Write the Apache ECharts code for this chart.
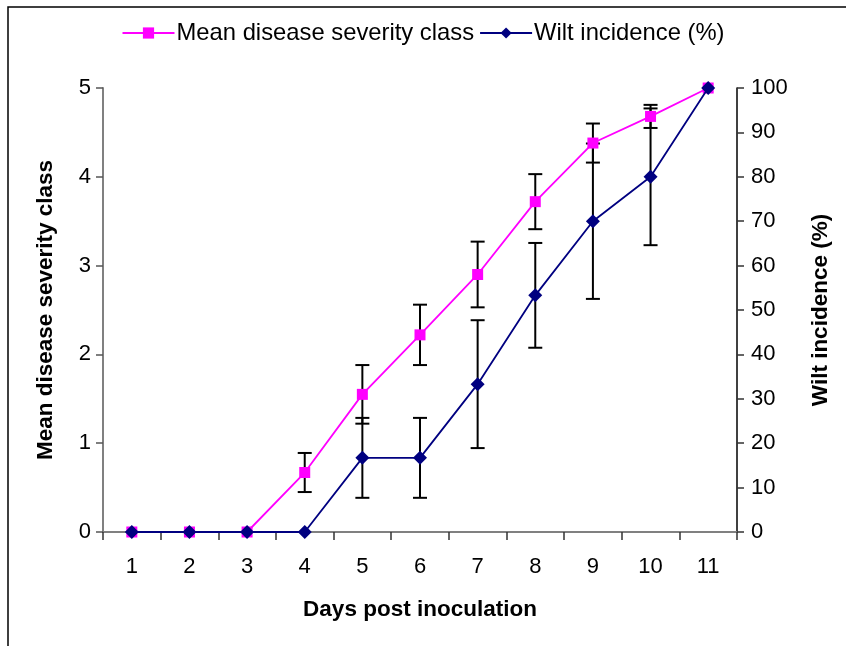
<!DOCTYPE html>
<html>
<head>
<meta charset="utf-8">
<script src="https://cdn.jsdelivr.net/npm/echarts@6/dist/echarts.min.js"></script>
<style>html,body{margin:0;padding:0;background:#fff}#c{width:846px;height:646px}</style>
</head>
<body>
<div id="c"></div>
<script>
var days = ['1','2','3','4','5','6','7','8','9','10','11'];
var severity = [0, 0, 0, 0.67, 1.55, 2.22, 2.9, 3.72, 4.38, 4.68, 5];
var severityErr = [0, 0, 0, 0.22, 0.33, 0.34, 0.37, 0.31, 0.22, 0.13, 0];
var wilt = [0, 0, 0, 0, 16.7, 16.7, 33.3, 53.3, 70, 80, 100];
var wiltErr = [0, 0, 0, 0, 9, 9, 14.4, 11.8, 17.5, 15.4, 0];
var leftTicks = [0, 1, 2, 3, 4, 5];
var rightTicks = [0, 10, 20, 30, 40, 50, 60, 70, 80, 90, 100];

var FONT = "'Liberation Sans', Arial, sans-serif";

function errData(vals, errs) {
  return vals.map(function (v, i) { return [i, v - errs[i], v + errs[i], errs[i]]; });
}
function errRender(params, api) {
  if (api.value(3) <= 0) return;
  var lo = api.coord([api.value(0), api.value(1)]);
  var hi = api.coord([api.value(0), api.value(2)]);
  var hw = 7;
  var st = { stroke: '#000', lineWidth: 2 };
  return {
    type: 'group',
    children: [
      { type: 'line', shape: { x1: lo[0], y1: lo[1], x2: hi[0], y2: hi[1] }, style: st },
      { type: 'line', shape: { x1: lo[0] - hw, y1: lo[1], x2: lo[0] + hw, y2: lo[1] }, style: st },
      { type: 'line', shape: { x1: hi[0] - hw, y1: hi[1], x2: hi[0] + hw, y2: hi[1] }, style: st }
    ]
  };
}

var chart = echarts.init(document.getElementById('c'));
chart.setOption({
  animation: false,
  backgroundColor: '#fff',
  textStyle: { fontFamily: FONT },
  graphic: [{
    type: 'rect', silent: true, z: -1,
    shape: { x: 8, y: 7, width: 1000, height: 1000 },
    style: { fill: 'none', stroke: '#000', lineWidth: 1.5 }
  }],
  legend: {
    top: 16, left: 'center',
    itemWidth: 52, itemHeight: 14, itemGap: 5,
    textStyle: { fontFamily: FONT, fontSize: 23.8, color: '#000', padding: [0, 0, 0, -3] },
    data: ['Mean disease severity class', 'Wilt incidence (%)']
  },
  grid: { left: 103, right: 109, top: 88, bottom: 114 },
  xAxis: {
    type: 'category', data: days, boundaryGap: true,
    name: 'Days post inoculation', nameLocation: 'middle', nameGap: 66,
    nameTextStyle: { fontFamily: FONT, fontSize: 22.5, fontWeight: 'bold', color: '#000' },
    axisLine: { lineStyle: { color: '#808080', width: 2 } },
    axisTick: { show: true, length: 8, lineStyle: { color: '#333', width: 1.5 } },
    axisLabel: { fontFamily: FONT, fontSize: 22, color: '#000', margin: 24 },
    splitLine: { show: false }
  },
  yAxis: [{
    type: 'value', min: 0, max: 5, interval: 1,
    name: 'Mean disease severity class', nameLocation: 'middle', nameGap: 46,
    nameTextStyle: { fontFamily: FONT, fontSize: 22.5, fontWeight: 'bold', color: '#000' },
    axisLine: { show: true, lineStyle: { color: '#808080', width: 2 } },
    axisTick: { show: true, length: 7, lineStyle: { color: '#555', width: 1.5 } },
    axisLabel: { fontFamily: FONT, fontSize: 22, color: '#000', margin: 12,
      formatter: function (v) { return leftTicks.indexOf(v) >= 0 ? String(v) : ''; } },
    splitLine: { show: false }
  }, {
    type: 'value', min: 0, max: 100, interval: 10, position: 'right',
    name: 'Wilt incidence (%)', nameLocation: 'middle', nameGap: 72, nameRotate: 90,
    nameTextStyle: { fontFamily: FONT, fontSize: 22.5, fontWeight: 'bold', color: '#000' },
    axisLine: { show: true, lineStyle: { color: '#000', width: 1.5 } },
    axisTick: { show: true, length: 7, lineStyle: { color: '#333', width: 1.5 } },
    axisLabel: { fontFamily: FONT, fontSize: 22, color: '#000', margin: 14,
      formatter: function (v) { return rightTicks.indexOf(v) >= 0 ? String(v) : ''; } },
    splitLine: { show: false }
  }],
  series: [{
    type: 'custom', name: 'sevErr', yAxisIndex: 0, z: 1,
    renderItem: errRender, data: errData(severity, severityErr),
    encode: { x: 0, y: [1, 2] }, silent: true
  }, {
    type: 'custom', name: 'wiltErr', yAxisIndex: 1, z: 1,
    renderItem: errRender, data: errData(wilt, wiltErr),
    encode: { x: 0, y: [1, 2] }, silent: true
  }, {
    type: 'line', name: 'Mean disease severity class', yAxisIndex: 0, z: 3,
    data: severity, symbol: 'rect', symbolSize: 11,
    lineStyle: { color: '#FF00FF', width: 1.8 },
    itemStyle: { color: '#FF00FF' }
  }, {
    type: 'line', name: 'Wilt incidence (%)', yAxisIndex: 1, z: 4,
    data: wilt, symbol: 'diamond', symbolSize: 14,
    lineStyle: { color: '#000080', width: 1.8 },
    itemStyle: { color: '#000080' }
  }]
});
</script>
</body>
</html>
